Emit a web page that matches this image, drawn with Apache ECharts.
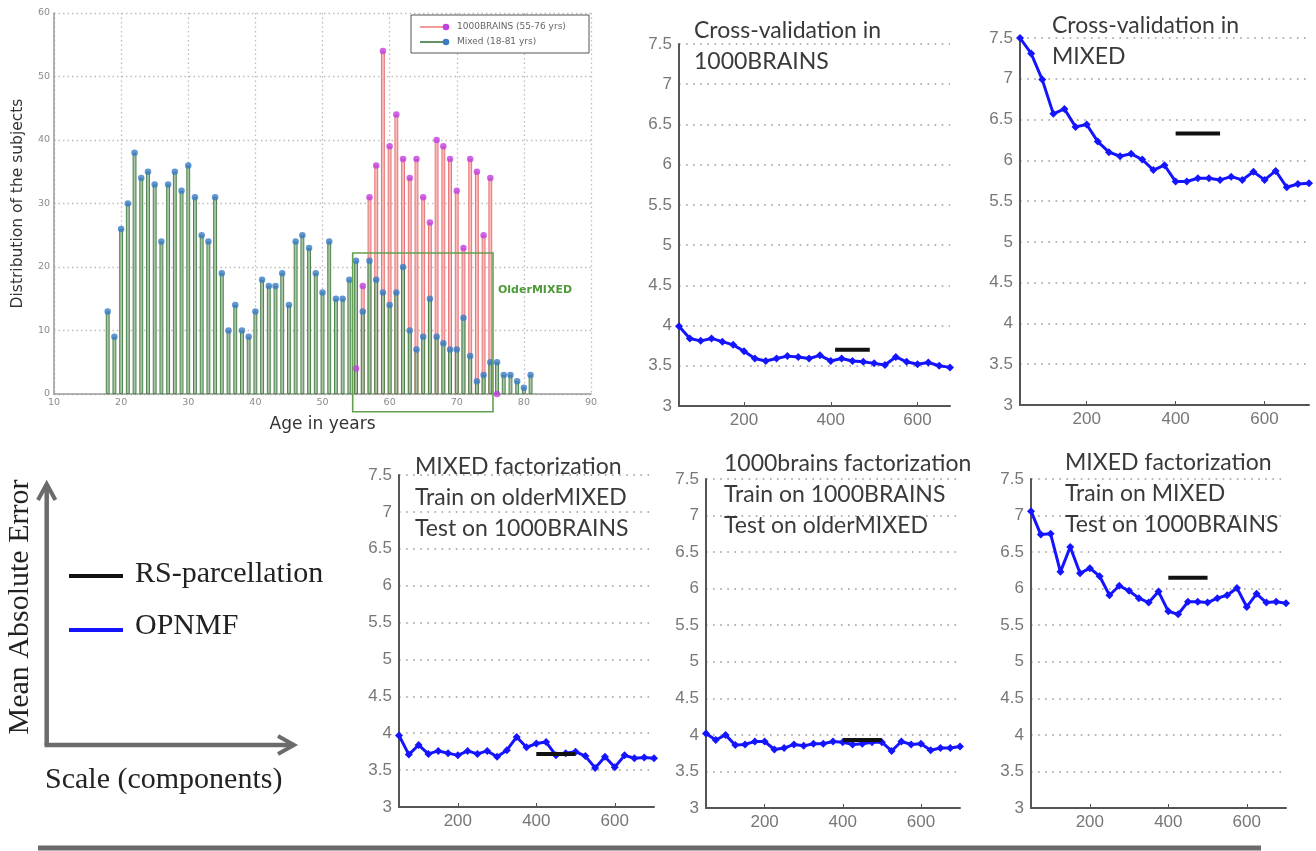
<!DOCTYPE html>
<html>
<head>
<meta charset="utf-8">
<script src="https://cdn.jsdelivr.net/npm/echarts@6/dist/echarts.min.js"></script>
<style>
html,body{margin:0;padding:0;background:#fff;}
#c{width:1316px;height:851px;}
</style>
</head>
<body>
<div id="c"></div>
<script>
// ---------- Histogram data ----------
const mixedAges = [18,19,20,21,22,23,24,25,26,27,28,29,30,31,32,33,34,35,36,37,38,39,40,41,42,43,44,45,46,47,48,49,50,51,52,53,54,55,56,57,58,59,60,61,62,63,64,65,66,67,68,69,70,71,72,73,74,75,76,77,78,79,80,81];
const mixedCounts = [13,9,26,30,38,34,35,33,24,33,35,32,36,31,25,24,31,19,10,14,10,9,13,18,17,17,19,14,24,25,23,19,16,24,15,15,18,21,13,21,18,16,14,16,20,10,7,9,15,9,8,7,7,12,6,2,3,5,5,3,3,2,1,3];
const brainsAges = [55,56,57,58,59,60,61,62,63,64,65,66,67,68,69,70,71,72,73,74,75,76];
const brainsCounts = [4,17,31,36,54,39,44,37,34,37,31,27,40,39,37,32,23,37,35,25,34,0];
const histXTicks = [10,20,30,40,50,60,70,80,90];
const olderMixedBox = {x0:54.5, x1:75.4, y0:22.2, y1:-2.8};

// ---------- Line panels data ----------
const scales = [50,75,100,125,150,175,200,225,250,275,300,325,350,375,400,425,450,475,500,525,550,575,600,625,650,675,700];
const scaleTicks = [200,400,600];
const cv1000 = [3.99,3.84,3.81,3.84,3.80,3.76,3.68,3.59,3.56,3.59,3.62,3.61,3.59,3.63,3.56,3.59,3.56,3.55,3.53,3.51,3.61,3.55,3.52,3.54,3.50,3.48];
const cvMixed = [7.50,7.31,6.99,6.57,6.63,6.41,6.44,6.23,6.10,6.05,6.08,6.01,5.88,5.94,5.74,5.74,5.78,5.78,5.76,5.80,5.76,5.86,5.76,5.87,5.67,5.71,5.72];
const mixOlderTo1000 = [3.97,3.71,3.84,3.72,3.76,3.73,3.70,3.76,3.72,3.76,3.68,3.77,3.95,3.81,3.86,3.88,3.70,3.73,3.75,3.69,3.53,3.68,3.54,3.70,3.66,3.67,3.66];
const b1000ToOlder = [4.02,3.93,4.00,3.86,3.87,3.91,3.91,3.80,3.82,3.87,3.85,3.88,3.88,3.91,3.90,3.87,3.88,3.90,3.90,3.78,3.91,3.87,3.88,3.79,3.82,3.82,3.84];
const mixTo1000 = [7.06,6.74,6.75,6.23,6.57,6.21,6.28,6.17,5.91,6.04,5.97,5.87,5.81,5.96,5.69,5.65,5.82,5.82,5.81,5.87,5.91,6.01,5.75,5.93,5.81,5.82,5.80];
const rsStart = [410,400,400,400,400];
const rsEnd = [490,500,500,500,500];
const rsValue = [3.70,6.33,3.72,3.93,6.15];
const panelTitles = [
  "Cross-validation in\n1000BRAINS",
  "Cross-validation in\nMIXED",
  "MIXED factorization\nTrain on olderMIXED\nTest on 1000BRAINS",
  "1000brains factorization\nTrain on 1000BRAINS\nTest on olderMIXED",
  "MIXED factorization\nTrain on MIXED\nTest on 1000BRAINS"
];
const panelSeries = [cv1000, cvMixed, mixOlderTo1000, b1000ToOlder, mixTo1000];
const mae = {min:3, max:7.5, step:0.5};

// ---------- Layout ----------
const panelGrids = [
  {left:679, top:44, width:271, height:362, xmax:675},
  {left:1020, top:38, width:289, height:367, xmax:700},
  {left:399, top:475, width:255, height:332, xmax:700},
  {left:706, top:479, width:254, height:329, xmax:700},
  {left:1031, top:479, width:255, height:329, xmax:700}
];
const titlePos = [[694,15],[1052,10.5],[415,451],[724,448.5],[1065,447]];

const chart = echarts.init(document.getElementById('c'), null, {renderer:'canvas'});

const grids = [{left:54, top:13, width:537, height:381}];
const xAxes = [{
  gridIndex:0, type:'value', min:histXTicks[0], max:histXTicks[histXTicks.length-1], interval:10,
  name:'Age in years', nameLocation:'middle', nameGap:22,
  nameTextStyle:{fontFamily:'DejaVu Sans', fontSize:17, color:'#333'},
  axisLine:{lineStyle:{color:'#9a9a9a', width:1.5}},
  axisTick:{show:false},
  axisLabel:{fontFamily:'DejaVu Sans', fontSize:9.5, color:'#8a8a8a', margin:4},
  splitLine:{show:true, lineStyle:{color:'#bdbdbd', width:1.3, type:[1.5,3]}}
}];
const yAxes = [{
  gridIndex:0, type:'value', min:0, max:60, interval:10,
  name:'Distribution of the subjects', nameLocation:'middle', nameGap:28, nameRotate:90,
  nameTextStyle:{fontFamily:'DejaVu Sans', fontSize:15.5, color:'#333'},
  axisLine:{show:true, lineStyle:{color:'#9a9a9a', width:1.5}},
  axisTick:{show:false},
  axisLabel:{fontFamily:'DejaVu Sans', fontSize:9.5, color:'#8a8a8a', margin:4},
  splitLine:{show:true, lineStyle:{color:'#bdbdbd', width:1.3, type:[1.5,3]}}
}];
const series = [
  {type:'bar', xAxisIndex:0, yAxisIndex:0, barWidth:3.8, barGap:'-100%', z:2,
   itemStyle:{color:'#f6bcbc', borderColor:'#e66a6a', borderWidth:0.9},
   data:brainsAges.map((a,i)=>[a,brainsCounts[i]])},
  {type:'bar', xAxisIndex:0, yAxisIndex:0, barWidth:3.8, barGap:'-100%', z:3,
   itemStyle:{color:'#aac3a7', borderColor:'#3d7a3d', borderWidth:0.9},
   data:mixedAges.map((a,i)=>[a,mixedCounts[i]])},
  {type:'scatter', xAxisIndex:0, yAxisIndex:0, symbolSize:6.5, z:4,
   itemStyle:{color:'#c23fe0'}, data:brainsAges.map((a,i)=>[a,brainsCounts[i]])},
  {type:'scatter', xAxisIndex:0, yAxisIndex:0, symbolSize:6.5, z:5,
   itemStyle:{color:'#3a7cc6'}, data:mixedAges.map((a,i)=>[a,mixedCounts[i]])}
];
const titles = [];

panelGrids.forEach((g,i)=>{
  const gi = i+1;
  grids.push({left:g.left, top:g.top, width:g.width, height:g.height});
  xAxes.push({
    gridIndex:gi, type:'value', min:scales[0], max:g.xmax,
    axisLine:{lineStyle:{color:'#555', width:2}},
    axisTick:{show:true, inside:true, length:4, customValues:scaleTicks, lineStyle:{color:'#555'}},
    axisLabel:{customValues:scaleTicks, fontFamily:'Liberation Sans', fontSize:17, color:'#777', margin:6},
    splitLine:{show:false}
  });
  yAxes.push({
    gridIndex:gi, type:'value', min:mae.min, max:mae.max, interval:mae.step,
    axisLine:{show:true, lineStyle:{color:'#555', width:2}},
    axisTick:{show:false},
    axisLabel:{fontFamily:'Liberation Sans', fontSize:17, color:'#777', margin:7},
    splitLine:{show:true, lineStyle:{color:'#9a9a9a', width:1.6, type:[1.6,5.5]}}
  });
  const vals = panelSeries[i];
  series.push({
    type:'line', xAxisIndex:gi, yAxisIndex:gi, symbol:'diamond', symbolSize:8, z:3,
    lineStyle:{color:'#1414ff', width:3}, itemStyle:{color:'#1414ff'},
    data:vals.map((v,k)=>[scales[k],v])
  });
  series.push({
    type:'line', xAxisIndex:gi, yAxisIndex:gi, symbol:'none', z:4,
    lineStyle:{color:'#111', width:4},
    data:[[rsStart[i],rsValue[i]],[rsEnd[i],rsValue[i]]]
  });
  titles.push({
    text:panelTitles[i], left:titlePos[i][0], top:titlePos[i][1], padding:0,
    textStyle:{fontFamily:'Lato', fontWeight:'normal', fontSize:23, lineHeight:31, color:'#3a3a3a'}
  });
});

chart.setOption({
  animation:false,
  backgroundColor:'#fff',
  title:titles,
  grid:grids, xAxis:xAxes, yAxis:yAxes, series:series
});

// ---------- annotations ----------
const p0 = chart.convertToPixel({gridIndex:0},[olderMixedBox.x0, olderMixedBox.y0]);
const p1 = chart.convertToPixel({gridIndex:0},[olderMixedBox.x1, olderMixedBox.y1]);
const serif = 'Liberation Serif';
const graphics = [
  // histogram legend
  {type:'rect', z:50, shape:{x:411,y:15,width:178,height:38}, style:{fill:'#fff', stroke:'#555', lineWidth:1}},
  {type:'line', z:51, shape:{x1:420,y1:27,x2:446,y2:27}, style:{stroke:'#ee7777', lineWidth:1.5}},
  {type:'circle', z:52, shape:{cx:446,cy:27,r:3.3}, style:{fill:'#c23fe0'}},
  {type:'text', z:52, x:457, y:27, style:{text:'1000BRAINS (55-76 yrs)', font:'9px "DejaVu Sans"', fill:'#666', textVerticalAlign:'middle'}},
  {type:'line', z:51, shape:{x1:420,y1:42,x2:446,y2:42}, style:{stroke:'#2f6f2f', lineWidth:1.5}},
  {type:'circle', z:52, shape:{cx:446,cy:42,r:3.3}, style:{fill:'#3a7cc6'}},
  {type:'text', z:52, x:457, y:42, style:{text:'Mixed (18-81 yrs)', font:'9px "DejaVu Sans"', fill:'#666', textVerticalAlign:'middle'}},
  // OlderMIXED box
  {type:'rect', z:40, shape:{x:p0[0], y:p0[1], width:p1[0]-p0[0], height:p1[1]-p0[1]}, style:{fill:'none', stroke:'#63a04f', lineWidth:1.6}},
  {type:'text', z:40, x:p1[0]+5, y:290, style:{text:'OlderMIXED', font:'bold 11px "DejaVu Sans"', fill:'#4f9a3a', textVerticalAlign:'middle'}},
  // axes arrows (left key)
  {type:'polyline', z:30, shape:{points:[[46.7,745],[46.7,484]]}, style:{stroke:'#6b6b6b', lineWidth:4.5}},
  {type:'polyline', z:30, shape:{points:[[38,500],[46.7,484],[55.4,500]]}, style:{stroke:'#6b6b6b', lineWidth:4, fill:'none'}},
  {type:'polyline', z:30, shape:{points:[[44.5,745],[294,745]]}, style:{stroke:'#6b6b6b', lineWidth:4.5}},
  {type:'polyline', z:30, shape:{points:[[278,736],[294,745],[278,754]]}, style:{stroke:'#6b6b6b', lineWidth:4, fill:'none'}},
  {type:'text', z:30, x:20, y:607, rotation:Math.PI/2, style:{text:'Mean Absolute Error', font:'30px "'+serif+'"', fill:'#222', textAlign:'center', textVerticalAlign:'middle'}},
  {type:'text', z:30, x:45, y:780, style:{text:'Scale (components)', font:'30px "'+serif+'"', fill:'#222', textVerticalAlign:'middle'}},
  {type:'line', z:30, shape:{x1:69,y1:576,x2:123,y2:576}, style:{stroke:'#111', lineWidth:4}},
  {type:'text', z:30, x:135, y:574, style:{text:'RS-parcellation', font:'30px "'+serif+'"', fill:'#222', textVerticalAlign:'middle'}},
  {type:'line', z:30, shape:{x1:69,y1:630,x2:123,y2:630}, style:{stroke:'#1414ff', lineWidth:4}},
  {type:'text', z:30, x:135, y:626, style:{text:'OPNMF', font:'30px "'+serif+'"', fill:'#222', textVerticalAlign:'middle'}},
  // bottom separator
  {type:'line', z:30, shape:{x1:38,y1:848,x2:1261,y2:848}, style:{stroke:'#6a6a6a', lineWidth:5}}
];
chart.setOption({graphic:graphics});
</script>
</body>
</html>
